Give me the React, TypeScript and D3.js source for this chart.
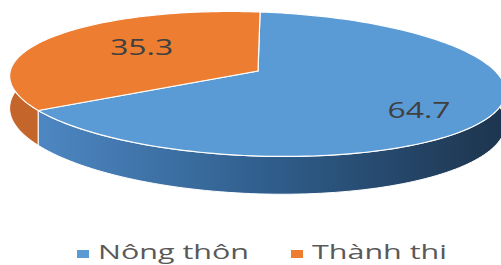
import React from "react";
import * as d3 from "d3";

const categories = ["Nông thôn", "Thành thi"];
const values = [64.7, 35.3];
const labels = ["64.7", "35.3"];

const topColors = ["#5b9bd5", "#ed7d31"];
const sideColors = ["url(#blueSide)", "#c4652b"];

const width = 501;
const height = 265;

// perspective ellipse
const cx = 258;
const cy = 71;
const B = 244; // horizontal radius
const A = 69.7; // vertical scale
const p = 0.18; // perspective strength
const depth = 31;
const tilt = (2 * Math.PI) / 180;

const proj = (theta: number, f = 1, dz = 0): [number, number] => {
  const s = Math.sin(theta) * f;
  const c = Math.cos(theta) * f;
  const k = 1 + p * c;
  const x = (B * s) / k;
  const y = -(A * c) / k;
  // small clockwise tilt of the whole disc
  const xr = x * Math.cos(tilt) - y * Math.sin(tilt);
  const yr = x * Math.sin(tilt) + y * Math.cos(tilt);
  return [cx + xr, cy + yr + dz / k];
};

const arcPoints = (a0: number, a1: number, dz = 0) => {
  const n = Math.max(2, Math.ceil(((a1 - a0) / (2 * Math.PI)) * 240));
  return d3.range(n + 1).map((i) => proj(a0 + ((a1 - a0) * i) / n, 1, dz));
};

// label placement (radial fraction and pixel nudges)
const labelPos = [
  { f: 0.7, dx: 0, dy: 10 },
  { f: 0.6, dx: 8, dy: -2 },
];

const font = "'Open Sans', 'DejaVu Sans', sans-serif";

export default function App() {
  const pie = d3
    .pie<number>()
    .sort(null)
    .value((d) => d);
  const arcs = pie(values);
  const line = d3.line();

  const legendX = [77, 291];
  const legendLen = [151, 135];

  return (
    <svg width={width} height={height} style={{ display: "block", position: "absolute", left: 0, top: 0 }}>
      <defs>
        <linearGradient id="blueSide" x1="0" x2="1" y1="0" y2="0">
          <stop offset="0%" stopColor="#4d87c2" />
          <stop offset="50%" stopColor="#2f5d8b" />
          <stop offset="100%" stopColor="#1d344d" />
        </linearGradient>
      </defs>
      <rect width={width} height={height} fill="#ffffff" />
      {/* outer walls */}
      {arcs.map((a, i) => {
        const top = arcPoints(a.startAngle, a.endAngle, 0);
        const bottom = arcPoints(a.startAngle, a.endAngle, depth).reverse();
        return (
          <path
            key={"w" + i}
            d={line([...top, ...bottom]) + "Z"}
            fill={sideColors[i]}
            stroke="#ffffff"
            strokeWidth={1}
          />
        );
      })}
      {/* top faces */}
      {arcs.map((a, i) => {
        const pts = [proj(0, 0), ...arcPoints(a.startAngle, a.endAngle, 0)];
        return (
          <path
            key={"t" + i}
            d={line(pts) + "Z"}
            fill={topColors[i]}
            stroke="#ffffff"
            strokeWidth={1.2}
          />
        );
      })}
      {arcs.map((a, i) => {
        const mid = (a.startAngle + a.endAngle) / 2;
        const [x, y] = proj(mid, labelPos[i].f);
        return (
          <text
            key={"l" + i}
            x={x + labelPos[i].dx}
            y={y + labelPos[i].dy}
            textAnchor="middle"
            dominantBaseline="central"
            fontFamily={font}
            fontSize={21}
            textLength={63}
            lengthAdjust="spacingAndGlyphs"
            fill="#404040"
          >
            {labels[i]}
          </text>
        );
      })}
      {/* legend */}
      {categories.map((c, i) => (
        <g key={"g" + i} transform={`translate(${legendX[i]},0)`}>
          <rect x={0} y={250} width={12} height={8} fill={topColors[i]} />
          <text
            x={21}
            y={259}
            fontFamily={font}
            fontSize={20}
            textLength={legendLen[i]}
            lengthAdjust="spacingAndGlyphs"
            fill="#595959"
          >
            {c}
          </text>
        </g>
      ))}
    </svg>
  );
}
